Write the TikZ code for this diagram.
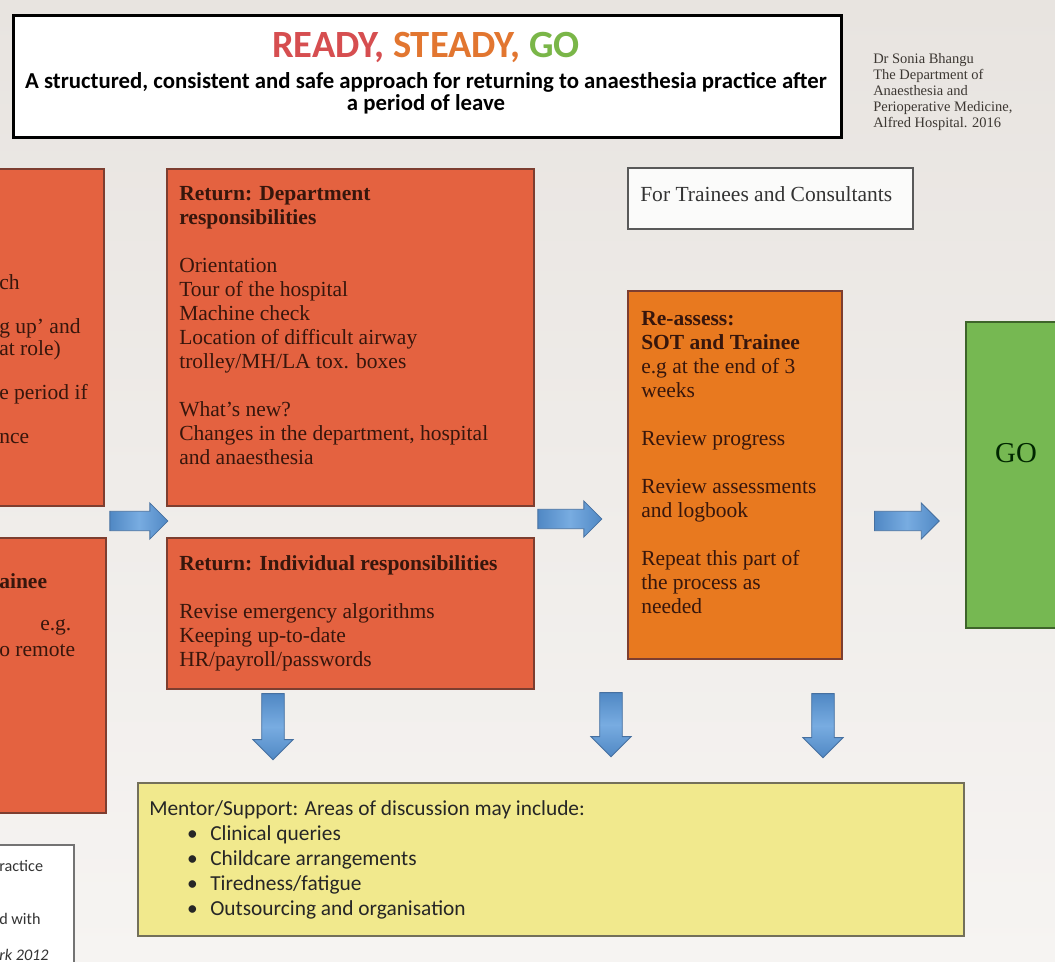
\documentclass[tikz,border=0pt]{standalone}
\usepackage{fontspec}
\setmainfont{Liberation Serif}
\newfontfamily\calibrifont{Carlito}
\usepackage{xcolor}
\usetikzlibrary{shapes.arrows, positioning}
\definecolor{bgtop}{RGB}{232, 228, 224}
\definecolor{bgbottom}{RGB}{246, 244, 242}
\definecolor{boxred}{RGB}{228, 98, 64}
\definecolor{boxredline}{RGB}{125, 62, 48}
\definecolor{boxorange}{RGB}{232, 121, 31}
\definecolor{boxgreen}{RGB}{118, 184, 82}
\definecolor{boxgreenline}{RGB}{62, 100, 42}
\definecolor{boxyellow}{RGB}{241, 233, 141}
\definecolor{boxyellowline}{RGB}{115, 112, 90}
\definecolor{boxtext}{RGB}{55, 22, 12}
\definecolor{authorgrey}{RGB}{60, 55, 50}
\definecolor{arrowlight}{RGB}{120, 172, 225}
\definecolor{arrowblue}{RGB}{80, 136, 196}
\definecolor{arrowdark}{RGB}{70, 112, 160}
\definecolor{readyred}{RGB}{214, 78, 80}
\definecolor{steadyorange}{RGB}{226, 118, 48}
\definecolor{gogreen}{RGB}{122, 182, 72}
\tikzstyle{redbox} = [draw=boxredline, fill=boxred, line width=1.4pt, anchor=north west, inner sep=0pt]
\tikzstyle{orangebox} = [draw=boxredline, fill=boxorange, line width=1.4pt, anchor=north west, inner sep=0pt]
\tikzstyle{whitebox} = [draw=black!65, fill=white!60!bgbottom, line width=1.4pt, anchor=north west, inner sep=0pt]
\tikzstyle{boxlines} = [anchor=north west, inner sep=0pt, align=left, text=boxtext, font=\fontsize{15.3}{17.07}\selectfont]
\tikzstyle{fragment} = [anchor=base west, inner sep=0pt, text=boxtext, font=\fontsize{15.3}{17.07}\selectfont]
\tikzstyle{blockarrow} = [single arrow, draw=arrowdark, line width=0.6pt, left color=arrowblue, right color=arrowblue, middle color=arrowlight, inner xsep=0pt, inner ysep=0.225cm, minimum width=0.9cm, single arrow head extend=0.2cm]
\tikzstyle{downarrow} = [blockarrow, shape border rotate=270, inner xsep=0.25cm, inner ysep=0pt, minimum width=1cm, top color=arrowblue, bottom color=arrowblue, middle color=arrowlight]

\begin{document}
\begin{tikzpicture}[x=0.025cm, y=-0.025cm]
    % Canvas
    \useasboundingbox (0,0) rectangle (1055,962);
    \clip (0,0) rectangle (1055,962);
    \fill[top color=bgtop, bottom color=bgbottom] (0,0) rectangle (1055,962);

    % Heading
    \node[draw=black, fill=white, line width=1.8pt, anchor=north west, inner sep=0pt, minimum width=20.7cm, minimum height=3.05cm] (head) at (12,14) {};
    \node[font=\calibrifont\bfseries\fontsize{27.4}{30}\selectfont, inner sep=0pt] (ready) at (426,47) {\textcolor{readyred}{READY,} \textcolor{steadyorange}{STEADY,} \textcolor{gogreen}{GO}};
    \node[font=\calibrifont\bfseries\fontsize{16.2}{15.65}\selectfont, align=center, inner sep=0pt] (aim) at (426,93) {A structured, consistent and safe approach for returning to anaesthesia practice after\\ a period of leave};
    \node[font=\fontsize{10.3}{11.4}\selectfont, text=authorgrey, align=left, anchor=north west, inner sep=0pt] (author) at (873,53) {Dr Sonia Bhangu\\ The Department of\\ Anaesthesia and\\ Perioperative Medicine,\\ Alfred Hospital. 2016};

    % Left column (cut off by the page edge)
    \node[redbox, minimum width=3.075cm, minimum height=8.425cm] (leftTop) at (-20,168) {};
    \node[boxlines, font=\fontsize{15.3}{15.65}\selectfont] (leftTopText) at (-1,274) {ch\\[15.65pt] g up' and\\ at role)\\[15.65pt] e period if\\[15.65pt] nce};
    \node[redbox, minimum width=3.125cm, minimum height=6.875cm] (leftBot) at (-20,537) {};
    \node[fragment, font=\bfseries\fontsize{15.3}{17.07}\selectfont] (leftBotA) at (-1,588) {ainee};
    \node[fragment] (leftBotB) at (40,630) {e.g.};
    \node[fragment] (leftBotC) at (-1,656) {o remote};
    \node[whitebox, draw=black!55, fill=white, minimum width=2.325cm, minimum height=3.5cm] (note) at (-20,844) {};
    \node[fragment, text=black!80, font=\calibrifont\fontsize{11.5}{13}\selectfont] (noteA) at (-1,871) {ractice};
    \node[fragment, text=black!80, font=\calibrifont\fontsize{11.5}{13}\selectfont] (noteB) at (-1,924) {d with};
    \node[fragment, text=black!80, font=\calibrifont\itshape\fontsize{11.5}{13}\selectfont] (noteC) at (-1,960) {rk 2012};

    % Return boxes
    \node[redbox, minimum width=9.175cm, minimum height=8.425cm] (dept) at (166,168) {};
    \node[boxlines] (deptText) at (179,186) {\textbf{Return: Department}\\ \textbf{responsibilities}\\[17.07pt] Orientation\\ Tour of the hospital\\ Machine check\\ Location of difficult airway\\ trolley/MH/LA tox. boxes\\[17.07pt] What's new?\\ Changes in the department, hospital\\ and anaesthesia};
    \node[redbox, minimum width=9.175cm, minimum height=3.775cm] (indiv) at (166,537) {};
    \node[boxlines] (indivText) at (179,555) {\textbf{Return: Individual responsibilities}\\[17.07pt] Revise emergency algorithms\\ Keeping up-to-date\\ HR/payroll/passwords};

    % Re-assess and audience
    \node[whitebox, minimum width=7.125cm, minimum height=1.525cm] (audience) at (627,167) {};
    \node[boxlines, text=black!80] (audienceText) at (640,186) {For Trainees and Consultants};
    \node[orangebox, minimum width=5.35cm, minimum height=9.2cm] (reassess) at (627,290) {};
    \node[boxlines] (reassessText) at (641,311) {\textbf{Re-assess:}\\ \textbf{SOT and Trainee}\\ e.g at the end of 3\\ weeks\\[17.07pt] Review progress\\[17.07pt] Review assessments\\ and logbook\\[17.07pt] Repeat this part of\\ the process as\\ needed};

    % Go
    \node[draw=boxgreenline, fill=boxgreen, line width=1.4pt, anchor=north west, inner sep=0pt, minimum width=3cm, minimum height=7.65cm] (go) at (965,321) {};
    \node[font=\fontsize{20.5}{24}\selectfont, text=black!85!green, inner sep=0pt] (goText) at (1016,453) {GO};

    % Mentor box
    \node[draw=boxyellowline, fill=boxyellow, line width=1.4pt, anchor=north west, inner sep=0pt, minimum width=20.65cm, minimum height=3.825cm] (mentor) at (137,782) {};
    \node[boxlines, text=black!85, font=\calibrifont\fontsize{15.2}{17.8}\selectfont] (mentorText) at (149,800) {Mentor/Support: Areas of discussion may include:\\ \hspace*{27pt}\makebox[16.4pt][l]{\textbullet}Clinical queries\\ \hspace*{27pt}\makebox[16.4pt][l]{\textbullet}Childcare arrangements\\ \hspace*{27pt}\makebox[16.4pt][l]{\textbullet}Tiredness/fatigue\\ \hspace*{27pt}\makebox[16.4pt][l]{\textbullet}Outsourcing and organisation};

    % Block arrows
    \node[blockarrow, minimum height=1.45cm] (toReturn) at (134,521) {};
    \node[blockarrow, minimum height=1.6cm] (toReassess) at (565,519) {};
    \node[blockarrow, minimum height=1.62cm] (toGo) at (902,521) {};
    \node[downarrow, minimum height=1.65cm] (downA) at (273,721) {};
    \node[downarrow, minimum height=1.6cm] (downB) at (611,719) {};
    \node[downarrow, minimum height=1.6cm] (downC) at (823,720) {};
\end{tikzpicture}
\end{document}
